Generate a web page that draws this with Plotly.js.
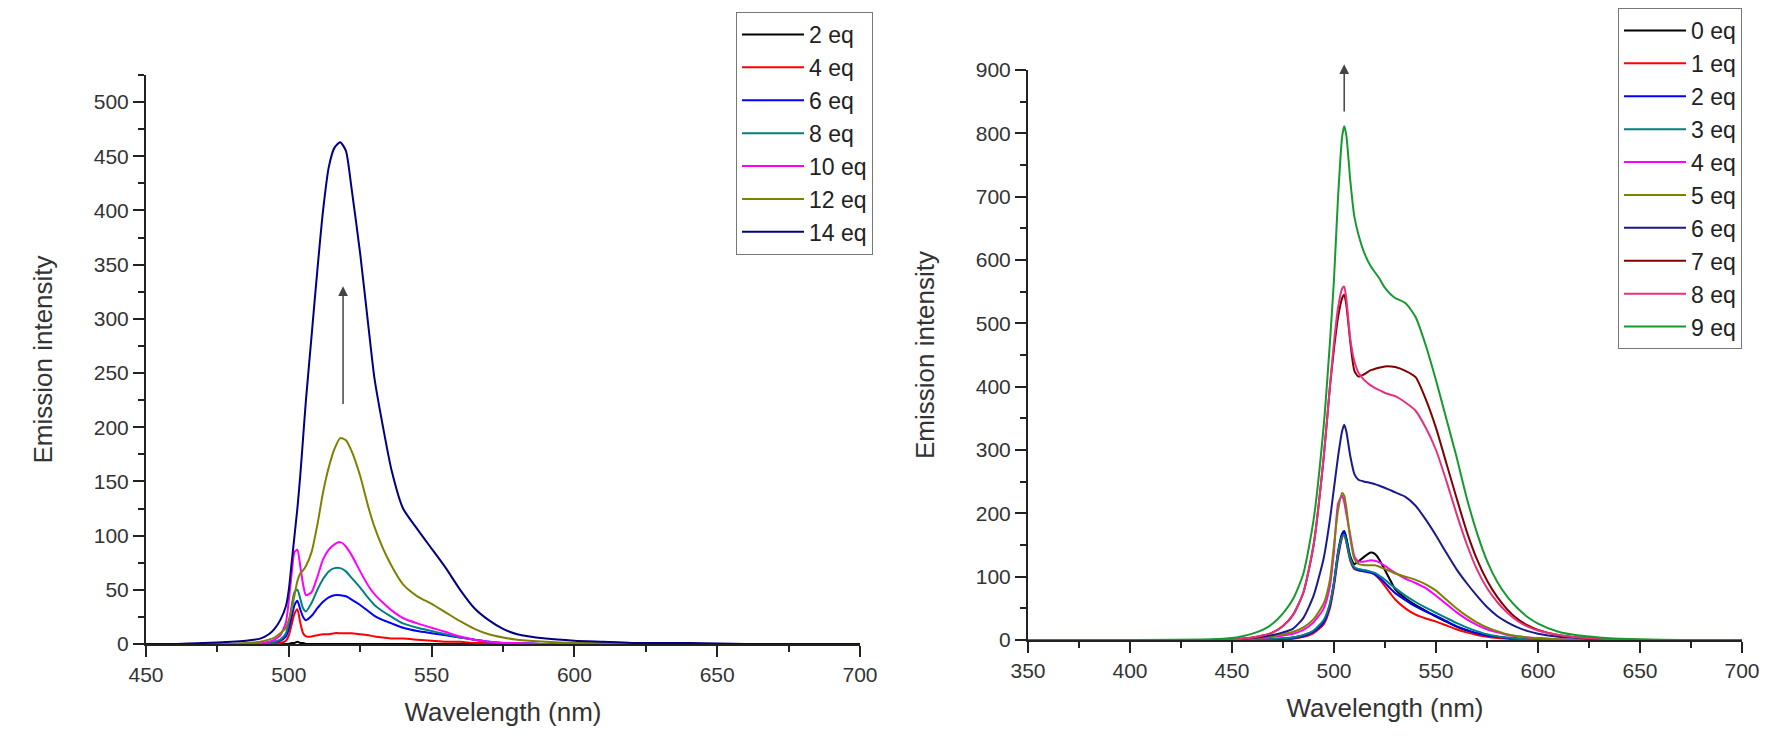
<!DOCTYPE html>
<html>
<head>
<meta charset="utf-8">
<script src="https://cdn.plot.ly/plotly-3.0.1.min.js"></script>
<style>
  html, body { margin: 0; padding: 0; background: #fff; }
  #chart { width: 1776px; height: 748px; }
</style>
</head>
<body>
<div id="chart"></div>
<script>
// --- left panel: 2..14 eq ---
const wlLeft = [450,460,470,480,485,490,493,495,497,499, 500,501,502,503,504,505,506,508,510,512,
                514,516,518,520,522,525,528,530,533,536, 540,545,550,555,560,565,570,575,580,590,
                600,610,620,640,660,700];
const leftNames = ['2 eq','4 eq','6 eq','8 eq','10 eq','12 eq','14 eq'];
const leftColors = ['#000000','#ff0000','#0000ff','#008080','#ff00ff','#808000','#000080'];
const eq2L  = [0,0,0,0,0,0,0,0,0,0, 0,1,1,2,1,1,0,0,0,0, 0,0,0,0,0,0,0,0,0,0, 0,0,0,0,0,0,0,0,0,0, 0,0,0,0,0,0];
const eq4L  = [0,0,0,0,0,0,0,1,1,3, 8,18,28,32,20,10,7,7,8,9, 9,10,10,10,10,9,8,7,6,5, 5,4,3,2,2,1,1,0,0,0, 0,0,0,0,0,0];
const eq6L  = [0,0,0,0,0,0,1,2,3,7, 14,25,36,40,32,25,22,26,33,39, 43,45,45,44,41,36,30,26,22,19, 15,12,10,8,6,4,2,1,1,0, 0,0,0,0,0,0];
const eq8L  = [0,0,0,0,0,0,1,2,4,10, 20,35,48,50,42,33,30,38,50,60, 67,70,70,67,61,52,42,36,30,25, 19,15,12,9,6,4,2,1,1,0, 0,0,0,0,0,0];
const eq10L = [0,0,0,0,0,1,2,4,8,20, 40,65,85,87,72,55,45,48,62,78, 87,92,94,90,82,67,53,46,38,31, 24,19,15,11,7,4,2,1,1,0, 0,0,0,0,0,0];
const eq12L = [0,0,0,0,1,2,4,6,10,15, 22,32,45,58,65,68,72,85,110,140, 163,180,190,188,178,155,125,108,88,72, 55,44,37,29,21,14,9,6,4,2, 1,1,0,0,0,0];
const eq14L = [0,0,1,2,3,5,9,14,22,35, 50,75,100,125,155,190,225,285,345,400, 440,458,463,455,420,360,290,245,200,160, 125,106,88,70,50,33,22,14,9,5, 3,2,1,1,0,0];
const leftSeries = [eq2L, eq4L, eq6L, eq8L, eq10L, eq12L, eq14L];

// --- right panel: 0..9 eq ---
const wlRight = [350,400,440,450,455,460,465,470,475,480, 485,490,495,498,500,502,504,505,506,508,
                 510,512,515,518,520,522,525,528,530,535, 540,545,550,555,560,565,570,575,580,585,
                 590,595,600,610,620,630,640,650,670,700];
const rightNames = ['0 eq','1 eq','2 eq','3 eq','4 eq','5 eq','6 eq','7 eq','8 eq','9 eq'];
const rightColors = ['#000000','#ff0000','#0000ff','#008080','#ff00ff','#808000','#1a1a8c','#800000','#e8317c','#169a2e'];
const eq0R = [0,0,0,0,0,0,0,1,2,4, 7,14,30,55,90,140,168,172,162,132, 120,124,132,138,136,128,110,92,80,66, 55,46,37,29,21,15,10,7,5,3, 2,1,1,0,0,0,0,0,0,0];
const eq1R = [0,0,0,0,0,0,0,0,1,2, 5,11,25,50,85,130,162,168,155,125, 112,110,110,107,103,97,85,72,64,50, 40,34,29,23,17,12,8,5,3,2, 1,1,0,0,0,0,0,0,0,0];
const eq2R = [0,0,0,0,0,0,0,1,2,3, 6,13,28,55,90,135,166,171,160,128, 114,110,108,106,104,99,90,80,74,63, 53,45,38,30,22,16,11,7,5,3, 2,1,0,0,0,0,0,0,0,0];
const eq3R = [0,0,0,0,0,0,1,2,3,4, 8,15,32,58,92,138,163,166,156,128, 115,112,110,108,106,102,95,87,82,70, 60,51,43,35,27,20,14,9,6,4, 2,1,1,0,0,0,0,0,0,0];
const eq4R = [0,0,0,0,1,2,3,5,7,10, 16,28,50,85,140,215,228,218,200,165, 132,124,124,126,125,123,117,110,106,97, 90,82,70,57,44,33,24,17,12,8, 6,4,3,1,0,0,0,0,0,0];
const eq5R = [0,0,0,0,1,2,4,6,9,13, 20,33,58,95,150,205,232,228,210,160, 128,120,118,118,118,116,112,108,105,100, 95,88,78,64,50,38,28,20,14,9, 6,4,3,1,0,0,0,0,0,0];
const eq6R = [0,0,0,1,2,3,5,8,12,18, 35,70,130,190,240,290,330,340,330,290, 262,253,250,248,246,244,240,236,233,226, 212,190,165,138,112,90,70,52,38,28, 20,14,10,5,3,1,0,0,0,0];
const eq7R = [0,0,0,1,2,4,7,12,22,40, 75,150,290,400,460,510,540,545,530,470, 425,416,420,426,428,430,432,432,431,425, 415,380,335,280,225,172,128,94,68,48, 33,23,16,8,4,2,1,0,0,0];
const eq8R = [0,0,0,1,2,4,7,12,22,40, 75,150,290,400,470,525,555,558,540,475, 440,422,410,402,398,395,390,387,385,375, 362,335,300,252,200,152,112,82,60,43, 30,21,15,8,4,2,1,0,0,0];
const eq9R = [0,0,1,3,6,10,16,26,42,65, 105,190,340,470,570,700,795,811,798,725, 668,640,610,590,581,572,556,545,540,532, 510,465,410,350,290,225,170,125,92,68, 50,36,26,13,7,4,2,1,0,0];
const rightSeries = [eq0R, eq1R, eq2R, eq3R, eq4R, eq5R, eq6R, eq7R, eq8R, eq9R];

const W = 1776, H = 748;
const FONT = 'Liberation Sans, Arial, sans-serif';

let traces = [];
leftSeries.forEach((ys, i) => {
  traces.push({
    x: wlLeft, y: ys, xaxis: 'x', yaxis: 'y', legend: 'legend',
    type: 'scatter', mode: 'lines', name: leftNames[i],
    line: {color: leftColors[i], width: 2, shape: 'spline', smoothing: 0.6}
  });
});
rightSeries.forEach((ys, i) => {
  traces.push({
    x: wlRight, y: ys, xaxis: 'x2', yaxis: 'y2', legend: 'legend2',
    type: 'scatter', mode: 'lines', name: rightNames[i],
    line: {color: rightColors[i], width: 2, shape: 'spline', smoothing: 0.6}
  });
});

function axis(extra) {
  return Object.assign({
    showline: true, linecolor: '#222', linewidth: 2,
    ticks: 'outside', ticklen: 11, tickwidth: 2, tickcolor: '#222',
    showgrid: false, zeroline: false,
    tickfont: {family: FONT, size: 21, color: '#333'}
  }, extra);
}
function minor(dt) {
  return {ticks: 'outside', ticklen: 6, tickwidth: 2, tickcolor: '#222', dtick: dt, showgrid: false};
}
const titleFont = {family: FONT, size: 26, color: '#333'};
const legendStyle = {
  font: {family: FONT, size: 23, color: '#222'},
  bordercolor: '#777', borderwidth: 1, bgcolor: '#fff',
  xanchor: 'left', yanchor: 'top', tracegroupgap: 0, itemwidth: 62
};

const layout = {
  width: W, height: H,
  margin: {l: 0, r: 0, t: 0, b: 0},
  paper_bgcolor: '#fff', plot_bgcolor: '#fff',
  showlegend: true,
  xaxis: axis({domain: [146/W, 860/W], range: [450, 700], dtick: 50, tick0: 450, minor: minor(25),
    title: {text: 'Wavelength (nm)', font: titleFont, standoff: 18}, anchor: 'y'}),
  yaxis: axis({domain: [104/H, 673/H], range: [0, 525], dtick: 50, tick0: 0, minor: minor(25),
    title: {text: 'Emission intensity', font: titleFont, standoff: 34}, anchor: 'x'}),
  xaxis2: axis({domain: [1028/W, 1742/W], range: [350, 700], dtick: 50, tick0: 350, minor: minor(25),
    title: {text: 'Wavelength (nm)', font: titleFont, standoff: 18}, anchor: 'y2'}),
  yaxis2: axis({domain: [108/H, 678/H], range: [0, 900], dtick: 100, tick0: 0, minor: minor(50),
    title: {text: 'Emission intensity', font: titleFont, standoff: 34}, anchor: 'x2'}),
  legend: Object.assign({x: 736/W, y: 1 - 12/H}, legendStyle),
  legend2: Object.assign({x: 1618/W, y: 1 - 8/H}, legendStyle),
  annotations: [
    {xref: 'x', yref: 'y', axref: 'x', ayref: 'y', x: 519, y: 330, ax: 519, ay: 220,
     text: '', showarrow: true, arrowhead: 2, arrowsize: 1.3, arrowwidth: 1.5, arrowcolor: '#444'},
    {xref: 'x2', yref: 'y2', axref: 'x2', ayref: 'y2', x: 505, y: 909, ax: 505, ay: 832,
     text: '', showarrow: true, arrowhead: 2, arrowsize: 1.3, arrowwidth: 1.5, arrowcolor: '#444'}
  ]
};

Plotly.newPlot('chart', traces, layout, {displayModeBar: false, staticPlot: true});
</script>
</body>
</html>
